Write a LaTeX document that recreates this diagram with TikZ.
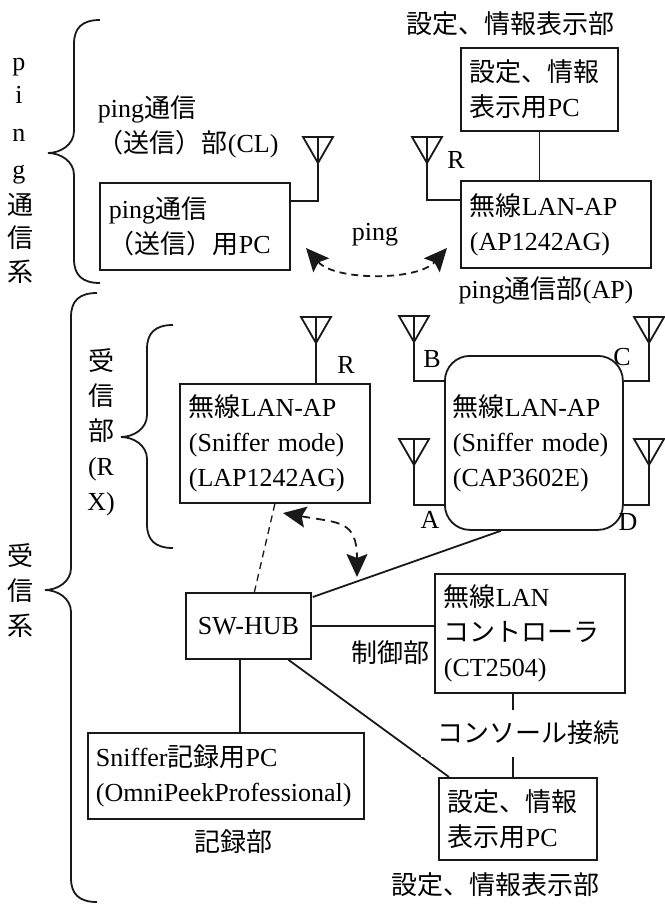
\documentclass[tikz,border=0pt]{standalone}
\usepackage{fontspec}
\setmainfont{Liberation Serif}
\newfontfamily\jpfont{Noto Sans CJK JP}
\newcommand\jt[1]{{\jpfont #1}}
\usetikzlibrary{arrows.meta,calc}

\tikzset{
    unitbox/.style={draw, anchor=north west, align=left, inner xsep=9pt, inner ysep=0pt},
    lbl/.style={inner sep=0pt},
    pics/antenna/.style={code={
        \draw (-15,-26) -- (15,-26) -- (0,0) -- cycle;
        \draw (0,-26) -- (0,0);
    }},
    pingarrow/.style={dash pattern=on 7pt off 5pt, {Stealth[length=23pt,width=21pt,inset=4pt]}-{Stealth[length=23pt,width=21pt,inset=4pt]}},
}

% #1 x of the ends, #2 top, #3 tip, #4 bottom
\newcommand\sidebrace[4]{%
    \draw (#1,#2) .. controls (#1-18,#2) and (#1-26,#2+8) .. (#1-26,#2+24)
        -- (#1-26,#3-22) .. controls (#1-26,#3-8) and (#1-40,#3) .. (#1-52,#3)
        .. controls (#1-40,#3) and (#1-26,#3+8) .. (#1-26,#3+22)
        -- (#1-26,#4-24) .. controls (#1-26,#4-8) and (#1-18,#4) .. (#1,#4);
}

\begin{document}
\begin{tikzpicture}[x=1pt, y=-1pt, line width=1.8pt, draw=black!90, font=\fontsize{26}{35}\selectfont]
                \useasboundingbox (0,0) rectangle (664,904);

                \node[unitbox, minimum width=157pt, minimum height=83pt, text width=139pt] (setpc) at (460,47) {\jt{設定、情報}\\\jt{表示用}PC};
                \node[unitbox, minimum width=190pt, minimum height=87pt, text width=172pt] (ap) at (460,180) {\jt{無線}LAN-AP\\(AP1242AG)};
                \node[unitbox, minimum width=190pt, minimum height=87pt, text width=172pt] (cl) at (99,182) {ping\jt{通信}\\\jt{（送信）用}PC};
                \node[unitbox, minimum width=190pt, minimum height=119pt, text width=172pt] (lap) at (179,383) {\jt{無線}LAN-AP\\(Sniffer mode)\\(LAP1242AG)};
                \node[unitbox, rounded corners=25pt, inner xsep=8pt, minimum width=178pt, minimum height=174pt, text width=162pt] (cap) at (444,355) {\jt{無線}LAN-AP\\(Sniffer mode)\\(CAP3602E)};
                \node[draw, anchor=north west, minimum width=125pt, minimum height=66pt] (hub) at (185,592) {SW-HUB};
                \node[unitbox, minimum width=190pt, minimum height=119pt, text width=172pt] (ctl) at (434,573) {\jt{無線}LAN\\\jt{コントローラ}\\(CT2504)};
                \node[unitbox, inner xsep=8pt, minimum width=276pt, minimum height=86pt, text width=260pt] (sniff) at (87,732) {Sniffer\jt{記録用}PC\\(OmniPeekProfessional)};
                \node[unitbox, minimum width=158pt, minimum height=82pt, text width=140pt] (pc2) at (438,777) {\jt{設定、情報}\\\jt{表示用}PC};

                \node[lbl] (settop) at (510,24) {\jt{設定、情報表示部}};
                \node[lbl] (aplbl) at (546,290) {ping\jt{通信部}(AP)};
                \node[lbl, anchor=west, align=left] (cllbl) at (97,127) {ping\jt{通信}\\\jt{（送信）部}(CL)};
                \node[lbl] (pinglbl) at (375,235) {ping};
                \node[lbl] (ctllbl) at (390,653) {\jt{制御部}};
                \node[lbl] (reclbl) at (233,842) {\jt{記録部}};
                \node[lbl] (setbot) at (495,885) {\jt{設定、情報表示部}};

                \foreach \ch/\yy [count=\k] in {p/67,i/95,n/135,g/175} {\node[lbl] (pingv\k) at (19,\yy) {\ch};}
                \foreach \ch/\yy [count=\k] in {通/205,信/238,系/272} {\node[lbl] (pingj\k) at (20,\yy) {\jt{\ch}};}
                \node[lbl, align=center] (rxsys) at (20,591) {\jt{受}\\\jt{信}\\\jt{系}};
                \node[lbl, align=center] (rxpart) at (101,432) {\jt{受}\\\jt{信}\\\jt{部}\\(R\\X)};

                \sidebrace{100}{20}{153}{283}
                \sidebrace{97}{293}{590}{902}
                \sidebrace{173}{325}{437}{548}

                \coordinate (antR) at (427,163);
                \coordinate (antCL) at (318,163);
                \coordinate (antLap) at (316,343);
                \coordinate (antB) at (414,342);
                \coordinate (antC) at (649,343);
                \coordinate (antA) at (414,465);
                \coordinate (antD) at (649,465);
                \foreach \a in {antR,antCL,antLap,antB,antC,antA,antD} {\pic at (\a) {antenna};}

                \node[lbl] (lblR) at (456,160) {R};
                \node[lbl] (lblLapR) at (346,365) {R};
                \node[lbl] (lblB) at (432,359) {B};
                \node[lbl] (lblC) at (622,357) {C};
                \node[lbl] (lblA) at (430,520) {A};
                \node[lbl] (lblD) at (628,522) {D};

                \draw (antR) |- ($(ap.north west)+(0,20)$);
                \draw (antCL) |- ($(cl.north east)+(0,19)$);
                \draw (antLap) -- (antLap |- lap.north);
                \draw (antB) |- ($(cap.north west)+(0,26)$);
                \draw (antC) |- ($(cap.north east)+(0,26)$);
                \draw (antA) |- ($(cap.south west)+(0,-26)$);
                \draw (antD) |- ($(cap.south east)+(0,-26)$);

                \draw (setpc.south) -- (setpc.south |- ap.north);
                \draw[dash pattern=on 7pt off 5pt, line width=1.3pt] (lap.south) -- ([xshift=6pt]hub.north);
                \draw ($(hub.north east)+(1,5)$) -- ($(cap.south)+(-33,0)$);
                \draw (hub.east) -- (ctl.west |- hub.east);
                \draw ([xshift=-8.5pt]hub.south) -- ([xshift=-8.5pt]hub.south |- sniff.north);
                \draw ([xshift=40pt]hub.south) -- ([xshift=11pt]pc2.north west);
                \draw ([xshift=-17pt]ctl.south) -- ([xshift=-17pt]ctl.south |- pc2.north);
                \node[lbl, fill=white, minimum width=215pt, minimum height=47pt] (cons) at (528,733) {\jt{コンソール接続}};

                \coordinate (pingstart) at (306,248);
                \coordinate (pingend) at (447,248);
                \draw[pingarrow] (pingstart) .. controls (335,281) and (418,281) .. (pingend);
                \coordinate (snifffrom) at (283,513);
                \coordinate (sniffto) at (357,577);
                \draw[pingarrow, dash pattern=on 9pt off 6pt] (snifffrom) .. controls (339,523) and (357,520) .. (sniffto);
            \end{tikzpicture}
\end{document}
